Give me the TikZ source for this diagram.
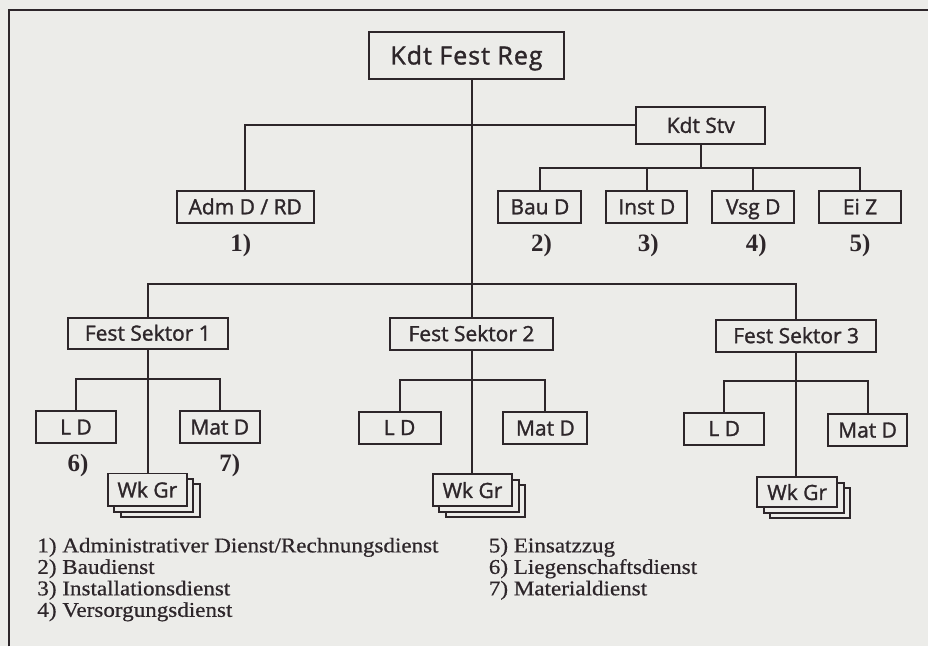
\documentclass[tikz,border=0pt]{standalone}
\usepackage{fontspec}
\usepackage{tikz}
\usetikzlibrary{shadows}
\setmainfont{Liberation Serif}
\newfontfamily\boxfont[FakeBold=1.4]{Open Sans}
\newfontfamily\headfont[FakeBold=1.4, LetterSpace=4]{Open Sans}
\newfontfamily\notefont[FakeStretch=1.1, FakeBold=0.6]{Liberation Serif}
\definecolor{orgink}{RGB}{45,38,42}
\definecolor{orgpaper}{RGB}{236,236,233}

\begin{document}
\begin{tikzpicture}[x=0.5pt, y=-0.5pt,
      unit/.style={draw=orgink, line width=1pt, fill=orgpaper, text=orgink, inner sep=0pt, minimum width=40pt, minimum height=16pt, text height=7.5pt, text depth=0pt, font=\boxfont\fontsize{10.5}{12}\selectfont},
      stack/.style={unit, copy shadow={shadow xshift=6.5pt, shadow yshift=-5.5pt, fill=orgpaper, draw=orgink, line width=1pt}, copy shadow={shadow xshift=3.25pt, shadow yshift=-2.75pt, fill=orgpaper, draw=orgink, line width=1pt}},
      link/.style={draw=orgink, line width=1pt},
      ref/.style={text=orgink, inner sep=0pt, font=\bfseries\fontsize{12.5}{12}\selectfont},
      note/.style={text=orgink, inner sep=0pt, align=left, anchor=north west, font=\notefont\fontsize{10.5}{10.75}\selectfont}
    ]
      \fill[orgpaper] (0,0) rectangle (929,647);
      \draw[link] (9,647) -- (9,10) -- (929,10);

      % head and deputy
      \node[unit, minimum width=97.5pt, minimum height=23.5pt, text height=9pt, font=\headfont\fontsize{12.5}{14}\selectfont] (reg) at (467,55.5) {Kdt Fest Reg};
      \node[unit, minimum width=64.5pt, minimum height=18.5pt] (stv) at (701.5,125.5) {Kdt Stv};

      \node[unit, minimum width=68.5pt] (adm) at (245.5,207) {Adm D / RD};
      \node[unit, minimum width=41.5pt] (bau) at (540.5,207) {Bau D};
      \node[unit, minimum width=40.5pt] (inst) at (647.5,207) {Inst D};
      \node[unit, minimum width=41pt] (vsg) at (754,207) {Vsg D};
      \node[unit, minimum width=41pt] (eiz) at (861,207) {Ei Z};

      \node[ref] (r1) at (241,246) {1)};
      \node[ref] (r2) at (542,246) {2)};
      \node[ref] (r3) at (649,246) {3)};
      \node[ref] (r4) at (757,246) {4)};
      \node[ref] (r5) at (861,246) {5)};

      % sectors
      \node[unit, minimum width=80pt, minimum height=15.5pt] (sek1) at (148,333.5) {Fest Sektor 1};
      \node[unit, minimum width=82pt] (sek2) at (472,334) {Fest Sektor 2};
      \node[unit, minimum width=80pt] (sek3) at (797,336) {Fest Sektor 3};

      \node[unit] (ld1) at (76,427.5) {L D};
      \node[unit] (mat1) at (220,427.5) {Mat D};
      \node[unit, minimum width=41pt] (ld2) at (400,428) {L D};
      \node[unit, minimum width=42pt] (mat2) at (546,428.5) {Mat D};
      \node[unit] (ld3) at (725,429) {L D};
      \node[unit, minimum width=39.5pt] (mat3) at (868.5,430.5) {Mat D};

      \node[ref] (r6) at (78,466) {6)};
      \node[ref] (r7) at (230,466) {7)};

      \node[stack, minimum width=39.5pt, minimum height=16.5pt] (wk1) at (147.5,490.5) {Wk Gr};
      \node[stack, minimum height=16pt] (wk2) at (473,491) {Wk Gr};
      \node[stack, minimum height=15pt] (wk3) at (798,493) {Wk Gr};

      % connectors
      \draw[link] (reg.south -| sek2.north) -- (sek2.north);
      \draw[link] (stv.west) -| (adm.north);
      \foreach \c in {bau,inst,vsg,eiz}
        \draw[link] (stv.south) -- ++(0,23) -| (\c.north);
      \draw[link] (sek1.north) -- ++(0,-33) -| (sek3.north);
      \foreach \s in {1,2,3} {
        \draw[link] (sek\s.south) -- (sek\s.south |- wk\s.north);
        \draw[link] (ld\s.north) -- ++(0,-31) -| (mat\s.north);
      }

      % legend
      \node[note] (keyl) at (37,538) {1) Administrativer Dienst/Rechnungsdienst\\2) Baudienst\\3) Installationsdienst\\4) Versorgungsdienst};
      \node[note] (keyr) at (489,538) {5) Einsatzzug\\6) Liegenschaftsdienst\\7) Materialdienst};
    \end{tikzpicture}
\end{document}
